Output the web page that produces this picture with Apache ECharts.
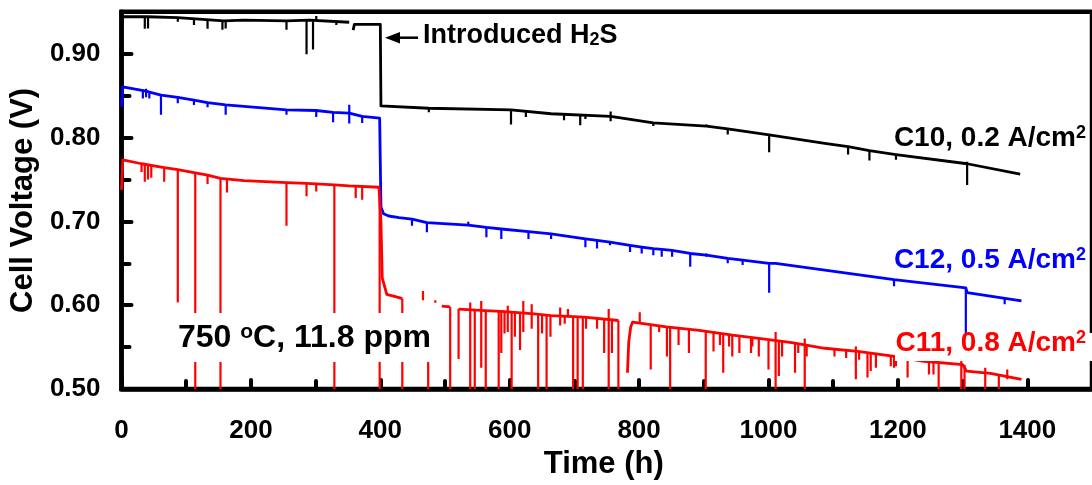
<!DOCTYPE html>
<html>
<head>
<meta charset="utf-8">
<script src="https://cdn.jsdelivr.net/npm/echarts@6/dist/echarts.min.js"></script>
<style>
html,body{margin:0;padding:0;background:#fff;}
#chart{width:1092px;height:485px;}
</style>
</head>
<body>
<div id="chart"></div>
<script>
// ---------------- DATA ----------------
const xTicks = [0, 200, 400, 600, 800, 1000, 1200, 1400];
const yTicks = [0.50, 0.60, 0.70, 0.80, 0.90];

// C10, 0.2 A/cm2 : [time (h), voltage (V)], null = gap in data
const c10Line = [[0,0.933],[2,0.944],[40,0.944],[87,0.943],[158,0.939],[189,0.940],[255,0.939],[290,0.940],[352,0.9374],[356,null],[358,0.928],[360,0.935],[400,0.935],[401,0.8376],[475,0.8349],[602,0.8329],[664,0.8283],[756,0.8252],[822,0.8174],[904,0.8136],[937,0.8104],[1001,0.803],[1087,0.7929],[1123,0.789],[1156,0.7843],[1197,0.7797],[1307,0.7687],[1389,0.7563]];
// spikes: [time, upper V, lower V]
const c10Spikes = [[36,0.944,0.9296],[41,0.944,0.930],[87,0.943,0.938],[112,0.942,0.934],[133,0.941,0.9296],[156,0.939,0.9284],[161,0.939,0.930],[255,0.939,0.9284],[286,0.940,0.8992],[296,0.940,0.905],[301,0.945,0.940],[332,0.939,0.934],[475,0.8349,0.830],[602,0.8329,0.8154],[625,0.831,0.8244],[684,0.828,0.8205],[709,0.8275,0.8147],[717,0.8272,0.8221],[756,0.831,0.8194],[822,0.8174,0.8136],[904,0.8155,0.8136],[937,0.8104,0.8037],[1001,0.803,0.7824],[1123,0.789,0.7797],[1156,0.7843,0.7727],[1197,0.7797,0.7734],[1307,0.771,0.7435]];

// C12, 0.5 A/cm2
const c12Line = [[0,0.8369],[2,0.8603],[36,0.8556],[61,0.8505],[87,0.8478],[112,0.8446],[133,0.8416],[161,0.8388],[255,0.8329],[301,0.8322],[327,0.8299],[352,0.8291],[372,0.8252],[399,0.8232],[401,0.7171],[405,0.709],[413,0.7064],[429,0.7045],[449,0.7026],[472,0.6986],[536,0.6956],[564,0.6928],[587,0.6909],[629,0.6877],[664,0.685],[717,0.6792],[735,0.6772],[755,0.6752],[786,0.6714],[804,0.6694],[822,0.6675],[835,0.6667],[851,0.6655],[879,0.6617],[904,0.6597],[937,0.6558],[960,0.6538],[1001,0.650],[1011,0.650],[1194,0.6305],[1305,0.6208],[1307,0.615],[1391,0.6051]];
const c12Spikes = [[33,0.857,0.8466],[38,0.858,0.848],[43,0.855,0.8466],[61,0.8505,0.8271],[87,0.8478,0.8408],[112,0.8446,0.8388],[133,0.8416,0.8361],[161,0.8388,0.8271],[255,0.8329,0.8271],[301,0.8322,0.8244],[327,0.8299,0.8182],[352,0.839,0.8166],[372,0.8252,0.8174],[449,0.7026,0.6947],[472,0.6986,0.687],[536,0.6995,0.6956],[564,0.6928,0.681],[587,0.6909,0.679],[629,0.6877,0.679],[664,0.685,0.679],[717,0.6792,0.669],[735,0.6772,0.6675],[755,0.6752,0.6714],[786,0.6714,0.6636],[804,0.6694,0.6617],[822,0.6675,0.6597],[835,0.6667,0.6577],[851,0.6655,0.6577],[879,0.6617,0.646],[904,0.6617,0.6577],[937,0.6558,0.650],[960,0.6538,0.648],[1001,0.650,0.615],[1194,0.6305,0.6227],[1305,0.6208,0.55],[1365,0.6075,0.6013]];

// C11, 0.8 A/cm2
const c11Line = [[0,0.7376],[2,0.7734],[31,0.7687],[66,0.764],[87,0.7617],[114,0.7578],[133,0.7551],[153,0.7512],[189,0.7485],[255,0.7461],[286,0.7453],[329,0.7435],[352,0.7423],[398,0.7407],[401,0.70],[403,0.6325],[410,0.613],[429,0.6091],[434,0.6078],[435,null],[495,0.599],[508,0.598],[509,null],[521,0.5954],[562,0.5935],[587,0.5927],[638,0.5896],[664,0.5876],[715,0.5857],[768,0.5818],[769,null],[782,0.5195],[784,0.556],[787,0.574],[790,0.5799],[842,0.5741],[893,0.5701],[944,0.5643],[985,0.5604],[1036,0.5554],[1087,0.5487],[1138,0.5449],[1189,0.5397],[1240,0.5332],[1300,0.5292],[1306,0.5215],[1343,0.5187],[1391,0.5117]];
const c11Spikes = [[31,0.7687,0.759],[36,0.768,0.7473],[41,0.767,0.750],[46,0.766,0.752],[66,0.764,0.7473],[87,0.7617,0.6033],[114,0.7578,0.45],[133,0.7551,0.7446],[153,0.7512,0.45],[163,0.751,0.7345],[255,0.7461,0.6947],[286,0.7453,0.7298],[301,0.745,0.7356],[329,0.7435,0.45],[362,0.7423,0.7278],[372,0.742,0.7259],[399,0.7407,0.45],[434,0.6078,0.45],[449,0.56,0.5359],[466,0.617,0.606],[474,0.58,0.45],[485,0.606,0.603],[508,0.598,0.45],[521,0.5954,0.5359],[539,0.6033,0.45],[546,0.594,0.45],[556,0.6051,0.5254],[563,0.5935,0.45],[583,0.593,0.45],[587,0.5927,0.5429],[592,0.5925,0.5662],[597,0.5993,0.5682],[603,0.592,0.45],[608,0.5915,0.5624],[616,0.591,0.5467],[621,0.6051,0.5682],[634,0.6013,0.5721],[644,0.589,0.45],[650,0.5885,0.5662],[657,0.588,0.45],[663,0.5877,0.5624],[678,0.5974,0.5759],[685,0.5868,0.5779],[690,0.5954,0.586],[698,0.5862,0.45],[705,0.586,0.45],[713,0.5858,0.45],[718,0.5855,0.5721],[735,0.5845,0.5721],[746,0.5838,0.5429],[753,0.5954,0.45],[758,0.583,0.5429],[768,0.5818,0.45],[801,0.5916,0.578],[818,0.577,0.5234],[831,0.5755,0.5682],[843,0.574,0.539],[848,0.5735,0.45],[861,0.5725,0.5526],[877,0.5715,0.5429],[903,0.5695,0.45],[915,0.5685,0.5449],[925,0.5675,0.5526],[930,0.567,0.5195],[939,0.566,0.5507],[944,0.5643,0.539],[955,0.5635,0.5429],[973,0.562,0.5429],[975,0.5615,0.5507],[985,0.5604,0.539],[1000,0.559,0.5234],[1011,0.5682,0.45],[1016,0.5575,0.5157],[1021,0.557,0.539],[1041,0.555,0.5195],[1046,0.5545,0.5429],[1056,0.5604,0.45],[1059,0.5535,0.539],[1102,0.5475,0.539],[1120,0.5465,0.537],[1135,0.5507,0.5117],[1140,0.5445,0.535],[1153,0.5435,0.5137],[1158,0.543,0.5215],[1166,0.5425,0.5254],[1189,0.5397,0.5273],[1194,0.539,0.5254],[1197,0.5387,0.5273],[1215,0.5429,0.5137],[1248,0.5325,0.5175],[1255,0.532,0.5175],[1263,0.5315,0.45],[1298,0.535,0.45],[1303,0.529,0.45],[1335,0.5254,0.45],[1356,0.517,0.45],[1369,0.5234,0.5117]];

const seriesNames = ['C10, 0.2 A/cm²', 'C12, 0.5 A/cm²', 'C11, 0.8 A/cm²'];
const seriesColors = ['#000000', '#0000ff', '#ff0000'];

// ---------------- CHART ----------------
const FONT = '"Liberation Sans", Arial, Helvetica, sans-serif';
const chart = echarts.init(document.getElementById('chart'), null, {renderer: 'canvas'});

function lineSeries(name, data, color) {
  return {
    name, type: 'line', data, showSymbol: false, symbol: 'none',
    connectNulls: false, clip: true, animation: false,
    lineStyle: {color, width: 2.8, join: 'round'}, z: 3
  };
}
function spikeSeries(name, data, color) {
  return {
    name: name + ' spikes', type: 'custom', data, clip: true, animation: false, z: 3,
    encode: {x: 0, y: [1, 2]},
    renderItem: function (params, api) {
      const p1 = api.coord([api.value(0), api.value(1)]);
      const p2 = api.coord([api.value(0), api.value(2)]);
      return {type: 'line', shape: {x1: p1[0], y1: p1[1], x2: p2[0], y2: p2[1]},
              style: {stroke: color, lineWidth: 2.2}};
    }
  };
}

const tickStyle = {color: '#000', width: 4, cap: 'round'};
const labelStyle = {color: '#000', fontSize: 26, fontWeight: 'bold', fontFamily: FONT};

const option = {
  backgroundColor: '#fff',
  animation: false,
  grid: {left: 120, top: 11.7, width: 980, height: 385, show: true,
         borderColor: '#000', borderWidth: 4.5, backgroundColor: 'transparent'},
  xAxis: {
    type: 'value', min: 0, max: 1500, interval: 200,
    name: 'Time (h)', nameLocation: 'middle', nameGap: 52,
    nameTextStyle: {color: '#000', fontSize: 31, fontWeight: 'bold', fontFamily: FONT, padding: [0, 6, 0, 0]},
    axisLine: {show: true, onZero: false, lineStyle: {color: '#000', width: 4.5}},
    axisTick: {show: true, inside: true, length: 9, lineStyle: tickStyle},
    minorTick: {show: true, splitNumber: 2, length: 8, lineStyle: tickStyle},
    splitLine: {show: false}, minorSplitLine: {show: false},
    axisLabel: Object.assign({margin: 29, showMaxLabel: false,
      formatter: v => xTicks.indexOf(v) >= 0 ? String(v) : ''}, labelStyle)
  },
  yAxis: [{
    type: 'value', min: 0.5, max: 0.95, interval: 0.1, position: 'left',
    name: 'Cell Voltage (V)', nameLocation: 'middle', nameGap: 82, nameRotate: 90,
    nameTextStyle: {color: '#000', fontSize: 31, fontWeight: 'bold', fontFamily: FONT},
    axisLine: {show: true, onZero: false, lineStyle: {color: '#000', width: 4.5}},
    axisTick: {show: true, inside: true, length: 10, lineStyle: tickStyle},
    splitLine: {show: false},
    axisLabel: Object.assign({margin: 21, showMaxLabel: false,
      formatter: v => {
        const hit = yTicks.find(t => Math.abs(t - v) < 1e-6);
        return hit !== undefined ? hit.toFixed(2) : '';
      }}, labelStyle)
  }, {
    // minor ticks every 0.05 V
    type: 'value', min: 0.5, max: 0.95, interval: 0.05, position: 'left', offset: 0,
    axisLine: {show: false}, axisLabel: {show: false}, splitLine: {show: false},
    axisTick: {show: true, inside: true, length: 8, lineStyle: tickStyle}
  }],
  series: [
    lineSeries(seriesNames[0], c10Line, seriesColors[0]),
    spikeSeries(seriesNames[0], c10Spikes, seriesColors[0]),
    lineSeries(seriesNames[1], c12Line, seriesColors[1]),
    spikeSeries(seriesNames[1], c12Spikes, seriesColors[1]),
    lineSeries(seriesNames[2], c11Line, seriesColors[2]),
    spikeSeries(seriesNames[2], c11Spikes, seriesColors[2])
  ],
  graphic: [
    // arrow for H2S introduction
    {type: 'line', z: 100, shape: {x1: 398, y1: 37.7, x2: 418, y2: 37.7}, style: {stroke: '#000', lineWidth: 2.5}},
    {type: 'polygon', z: 100, shape: {points: [[385, 37.7], [400, 32], [400, 43.4]]}, style: {fill: '#000'}},
    {type: 'text', z: 100, x: 423, y: 35.5, style: {
      text: 'Introduced H{sub|2}S', fill: '#000', fontSize: 27, fontWeight: 'bold', fontFamily: FONT,
      lineHeight: 27, align: 'left', verticalAlign: 'middle',
      rich: {sub: {fontSize: 18, fontWeight: 'bold', fontFamily: FONT, lineHeight: 14, verticalAlign: 'bottom', fill: '#000'}}
    }},
    // condition label with white box
    {type: 'rect', z: 99, shape: {x: 172, y: 313, width: 268, height: 49}, style: {fill: '#fff'}},
    {type: 'text', z: 100, x: 178, y: 338, style: {
      text: '750 {sup|o}C, 11.8 ppm', fill: '#000', fontSize: 32, fontWeight: 'bold', fontFamily: FONT,
      lineHeight: 32, align: 'left', verticalAlign: 'middle',
      rich: {sup: {fontSize: 21, fontWeight: 'bold', fontFamily: FONT, lineHeight: 8, verticalAlign: 'top', fill: '#000'}}
    }},
    // series labels
    {type: 'text', z: 100, x: 1086, y: 138, style: {
      text: 'C10, 0.2 A/cm{sup|2}', fill: '#000', fontSize: 28, fontWeight: 'bold', fontFamily: FONT,
      lineHeight: 28, align: 'right', verticalAlign: 'middle',
      rich: {sup: {fontSize: 18, fontWeight: 'bold', fontFamily: FONT, lineHeight: 12, verticalAlign: 'top', fill: '#000'}}
    }},
    {type: 'text', z: 100, x: 1086, y: 260, style: {
      text: 'C12, 0.5 A/cm{sup|2}', fill: '#0000ff', fontSize: 28, fontWeight: 'bold', fontFamily: FONT,
      lineHeight: 28, align: 'right', verticalAlign: 'middle',
      rich: {sup: {fontSize: 18, fontWeight: 'bold', fontFamily: FONT, lineHeight: 12, verticalAlign: 'top', fill: '#0000ff'}}
    }},
    {type: 'rect', z: 99, shape: {x: 895, y: 333, width: 200, height: 28}, style: {fill: '#fff'}},
    {type: 'text', z: 100, x: 1086, y: 343, style: {
      text: 'C11, 0.8 A/cm{sup|2}', fill: '#ff0000', fontSize: 28, fontWeight: 'bold', fontFamily: FONT,
      lineHeight: 28, align: 'right', verticalAlign: 'middle',
      rich: {sup: {fontSize: 18, fontWeight: 'bold', fontFamily: FONT, lineHeight: 12, verticalAlign: 'top', fill: '#ff0000'}}
    }}
  ]
};
chart.setOption(option);
</script>
</body>
</html>
